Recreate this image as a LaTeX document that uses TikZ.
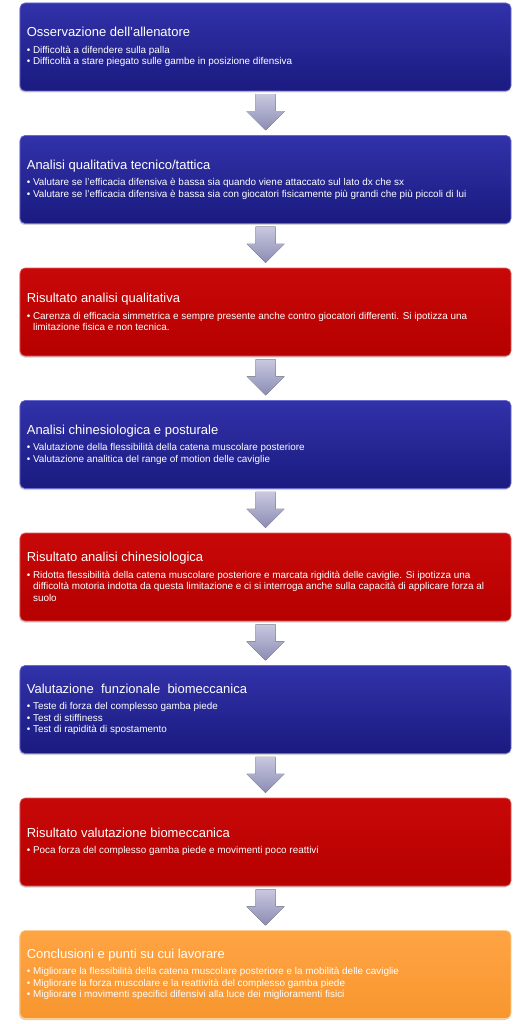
\documentclass[tikz,border=0pt]{standalone}
\usepackage{fontspec}
\setmainfont{Liberation Sans}
\usetikzlibrary{calc,shadows}
\definecolor{blueT}{HTML}{3232AA}
\definecolor{blueB}{HTML}{1A1A80}
\definecolor{blueL}{HTML}{6A6ACC}
\definecolor{redT}{HTML}{C80808}
\definecolor{redB}{HTML}{B60000}
\definecolor{redL}{HTML}{E06060}
\definecolor{orT}{HTML}{FFA444}
\definecolor{orB}{HTML}{F7962E}
\definecolor{orL}{HTML}{FFD090}
\definecolor{arrT}{HTML}{C8C8E0}
\definecolor{arrB}{HTML}{8C8CB4}
\newcommand{\ttl}[1]{{\fontsize{13}{15}\selectfont #1}}
\newcommand{\bl}{\textbullet\ }
\newcommand{\ind}{\phantom{\textbullet\ }}
\begin{document}
\begin{tikzpicture}[x=1pt,y=-1pt,
  box/.style={rounded corners=5pt, minimum width=491pt, minimum height=88pt, inner sep=0pt, line width=0.7pt,
    drop shadow={shadow xshift=-0.8pt, shadow yshift=-1.5pt, opacity=0.35}},
  bluebox/.style={box, top color=blueT, bottom color=blueB, draw=blueL},
  redbox/.style={box, top color=redT, bottom color=redB, draw=redL},
  orbox/.style={box, top color=orT, bottom color=orB, draw=orL},
  txt/.style={anchor=west, text=white, align=left, inner sep=0pt, font=\fontsize{9.9}{11.5}\selectfont},
  arr/.style={top color=arrT, bottom color=arrB}]
\useasboundingbox[fill=white] (0,0) rectangle (531,1024);

\node[bluebox] (b1) at (265.5,47) {};
\node[bluebox] (b2) at (265.5,179.5) {};
\node[redbox]  (b3) at (265.5,312) {};
\node[bluebox] (b4) at (265.5,444.5) {};
\node[redbox]  (b5) at (265.5,577) {};
\node[bluebox] (b6) at (265.5,709.5) {};
\node[redbox]  (b7) at (265.5,842) {};
\node[orbox]   (b8) at (265.5,974.5) {};

\node[txt] (t1) at ($(b1.west)+(7,0)$) {\ttl{Osservazione dell’allenatore}\\[5pt]
\bl Difficoltà a difendere sulla palla\\
\bl Difficoltà a stare piegato sulle gambe in posizione difensiva};
\node[txt] (t2) at ($(b2.west)+(7,0)$) {\ttl{Analisi qualitativa tecnico/tattica}\\[5pt]
\bl Valutare se l’efficacia difensiva è bassa sia quando viene attaccato sul lato dx che sx\\
\bl Valutare se l’efficacia difensiva è bassa sia con giocatori fisicamente più grandi che più piccoli di lui};
\node[txt] (t3) at ($(b3.west)+(7,0)$) {\ttl{Risultato analisi qualitativa}\\[5pt]
\bl Carenza di efficacia simmetrica e sempre presente anche contro giocatori differenti. Si ipotizza una\\
\ind limitazione fisica e non tecnica.};
\node[txt] (t4) at ($(b4.west)+(7,0)$) {\ttl{Analisi chinesiologica e posturale}\\[5pt]
\bl Valutazione della flessibilità della catena muscolare posteriore\\
\bl Valutazione analitica del range of motion delle caviglie};
\node[txt] (t5) at ($(b5.west)+(7,0)$) {\ttl{Risultato analisi chinesiologica}\\[5pt]
\bl Ridotta flessibilità della catena muscolare posteriore e marcata rigidità delle caviglie. Si ipotizza una\\
\ind difficoltà motoria indotta da questa limitazione e ci si interroga anche sulla capacità di applicare forza al\\
\ind suolo};
\node[txt] (t6) at ($(b6.west)+(7,0)$) {\ttl{Valutazione\ \ funzionale\ \ biomeccanica}\\[5pt]
\bl Teste di forza del complesso gamba piede\\
\bl Test di stiffiness\\
\bl Test di rapidità di spostamento};
\node[txt] (t7) at ($(b7.west)+(7,0)$) {\ttl{Risultato valutazione biomeccanica}\\[5pt]
\bl Poca forza del complesso gamba piede e movimenti poco reattivi};
\node[txt] (t8) at ($(b8.west)+(7,0)$) {\ttl{Conclusioni e punti su cui lavorare}\\[5pt]
\bl Migliorare la flessibilità della catena muscolare posteriore e la mobilità delle caviglie\\
\bl Migliorare la forza muscolare e la reattività del complesso gamba piede\\
\bl Migliorare i movimenti specifici difensivi alla luce dei miglioramenti fisici};

\foreach \u/\v in {b1/b2,b2/b3,b3/b4,b4/b5,b5/b6,b6/b7,b7/b8} {
  \coordinate (m\u) at ($(\u.south)!0.5!(\v.north)$);
  \fill[arr] ($(m\u)+(-10,-19)$) -- ($(m\u)+(10,-19)$) -- ($(m\u)+(10,-2)$) -- ($(m\u)+(19,-2)$)
    -- ($(m\u)+(0,17)$) -- ($(m\u)+(-19,-2)$) -- ($(m\u)+(-10,-2)$) -- cycle;
}
\end{tikzpicture}
\end{document}
